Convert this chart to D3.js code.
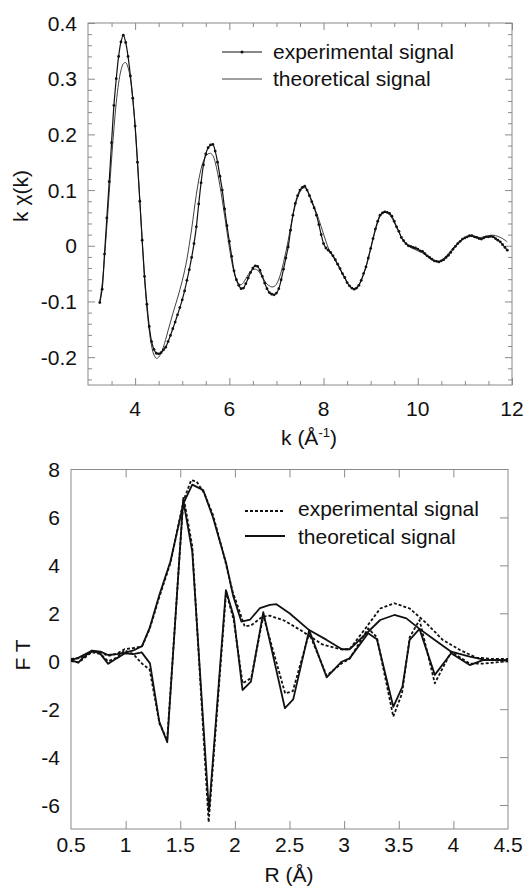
<!DOCTYPE html>
<html lang="en">
  <head>
    <meta charset="UTF-8" />
    <title>EXAFS signal and Fourier transform</title>
    <style type="text/css">
      body {
        margin: 0;
        background: #ffffff;
        font-family: "Liberation Sans", Arial, Helvetica, sans-serif;
      }
      svg {
        display: block;
      }
      .frame {
        fill: none;
        stroke: #8a8a8a;
        stroke-width: 1px;
      }
      .tick-g line {
        stroke: #8a8a8a;
      }
      .tick-g path {
        display: none;
      }
      text {
        fill: #111111;
        font-size: 21px;
      }
    </style>
  </head>
  <body>
    <script src="https://d3js.org/d3.v7.min.js"></script>
    <script>
      // ---- top panel : k chi(k), sampled every 0.05 from k = 3.25 ----
      var kStart = 3.25;
      var kStep = 0.05;
      var chiExperimental = [
        -0.102, -0.078, -0.015, 0.050, 0.115, 0.185, 0.252, 0.300, 0.340, 0.366,
        0.378, 0.365, 0.340, 0.305, 0.265, 0.215, 0.150, 0.080, 0.010, -0.055,
        -0.105, -0.145, -0.172, -0.186, -0.193, -0.194, -0.192, -0.187, -0.182, -0.172,
        -0.161, -0.149, -0.137, -0.124, -0.111, -0.097, -0.081, -0.062, -0.043, -0.021,
        0.004, 0.034, 0.075, 0.113, 0.145, 0.165, 0.176, 0.181, 0.182, 0.170,
        0.150, 0.125, 0.100, 0.066, 0.036, 0.008, -0.019, -0.045, -0.061, -0.071,
        -0.077, -0.076, -0.068, -0.058, -0.048, -0.040, -0.036, -0.037, -0.044, -0.055,
        -0.067, -0.077, -0.084, -0.087, -0.088, -0.085, -0.077, -0.061, -0.042, -0.022,
        -0.002, 0.028, 0.055, 0.076, 0.090, 0.100, 0.105, 0.107, 0.100, 0.090,
        0.079, 0.068, 0.055, 0.038, 0.020, 0.004, -0.004, -0.008, -0.012, -0.018,
        -0.025, -0.033, -0.041, -0.050, -0.057, -0.066, -0.072, -0.076, -0.078, -0.076,
        -0.071, -0.062, -0.050, -0.038, -0.022, -0.005, 0.013, 0.030, 0.044, 0.055,
        0.059, 0.061, 0.060, 0.058, 0.053, 0.044, 0.034, 0.026, 0.015, 0.009,
        0.004, 0.000, -0.001, -0.003, -0.004, -0.006, -0.009, -0.010, -0.014, -0.018,
        -0.021, -0.024, -0.027, -0.028, -0.029, -0.027, -0.025, -0.021, -0.017, -0.012,
        -0.006, -0.001, 0.004, 0.008, 0.012, 0.014, 0.016, 0.018, 0.018, 0.016,
        0.015, 0.013, 0.012, 0.014, 0.016, 0.016, 0.017, 0.016, 0.013, 0.010,
        0.007, 0.002, -0.003, -0.008
      ];
      var chiTheoretical = [
        -0.100, -0.070, -0.022, 0.035, 0.095, 0.155, 0.210, 0.257, 0.292, 0.315,
        0.327, 0.329, 0.320, 0.300, 0.264, 0.216, 0.152, 0.082, 0.010, -0.058,
        -0.112, -0.152, -0.180, -0.196, -0.202, -0.200, -0.193, -0.182, -0.168, -0.152,
        -0.137, -0.122, -0.108, -0.094, -0.079, -0.063, -0.045, -0.024, 0.002, 0.030,
        0.062, 0.092, 0.118, 0.138, 0.152, 0.161, 0.165, 0.166, 0.162, 0.150,
        0.131, 0.108, 0.082, 0.054, 0.025, -0.003, -0.028, -0.048, -0.061, -0.068,
        -0.070, -0.066, -0.059, -0.052, -0.046, -0.043, -0.042, -0.044, -0.049, -0.056,
        -0.063, -0.069, -0.072, -0.074, -0.073, -0.069, -0.060, -0.047, -0.030, -0.011,
        0.010, 0.033, 0.055, 0.073, 0.087, 0.097, 0.103, 0.104, 0.100, 0.092,
        0.081, 0.070, 0.059, 0.047, 0.034, 0.021, 0.008, -0.004, -0.013, -0.020,
        -0.027, -0.034, -0.042, -0.050, -0.058, -0.066, -0.072, -0.076, -0.077, -0.075,
        -0.070, -0.062, -0.051, -0.038, -0.022, -0.005, 0.012, 0.028, 0.042, 0.053,
        0.058, 0.060, 0.059, 0.056, 0.050, 0.042, 0.033, 0.024, 0.016, 0.009,
        0.004, 0.000, -0.003, -0.005, -0.007, -0.009, -0.011, -0.013, -0.016, -0.019,
        -0.022, -0.025, -0.027, -0.028, -0.028, -0.026, -0.023, -0.019, -0.014, -0.009,
        -0.004, 0.001, 0.005, 0.009, 0.012, 0.015, 0.017, 0.018, 0.018, 0.017,
        0.016, 0.015, 0.015, 0.016, 0.017, 0.018, 0.019, 0.019, 0.018, 0.017,
        0.015, 0.013, 0.010, 0.007
      ];
      var kTickLabels = [4, 6, 8, 10, 12];
      var chiTickLabels = [-0.2, -0.1, 0, 0.1, 0.2, 0.3, 0.4];

      // ---- bottom panel : Fourier transform (modulus and imaginary part) ----
      var rExpMod = [0.5, 0.57, 0.69, 0.77, 0.84, 0.92, 0.99, 1.07, 1.15, 1.22, 1.31, 1.41, 1.53, 1.6, 1.65, 1.72, 1.8, 1.9, 1.98, 2.09, 2.15, 2.25, 2.32, 2.45, 2.6, 2.8, 2.97, 3.05, 3.2, 3.33, 3.46, 3.6, 3.75, 3.9, 4.06, 4.21, 4.35, 4.5];
      var ftExpMod = [0.1, 0.12, 0.4, 0.38, 0.22, 0.32, 0.5, 0.55, 0.62, 1.35, 2.7, 4.1, 6.7, 7.56, 7.5, 7.0, 6.1, 4.4, 2.9, 1.45, 1.5, 1.85, 1.9, 1.7, 1.3, 0.7, 0.5, 0.5, 1.4, 2.2, 2.42, 2.2, 1.6, 0.9, 0.47, 0.15, 0.1, 0.1];
      var rExpIm = [0.5, 0.57, 0.69, 0.77, 0.84, 0.92, 0.99, 1.07, 1.15, 1.22, 1.31, 1.38, 1.53, 1.61, 1.76, 1.92, 1.99, 2.07, 2.15, 2.26, 2.46, 2.53, 2.68, 2.84, 2.98, 3.05, 3.22, 3.3, 3.45, 3.53, 3.6, 3.69, 3.83, 3.98, 4.15, 4.27, 4.5];
      var ftExpIm = [0.0, -0.05, 0.38, 0.3, 0.0, 0.15, 0.45, 0.3, -0.1, -0.35, -2.6, -3.3, 6.85, 4.8, -6.72, 2.9, 1.7, -0.92, -0.7, 1.9, -1.34, -1.25, 1.17, -0.6, -0.08, 0.1, 1.37, 1.0, -2.31, -1.34, 1.0, 1.72, -0.92, 0.4, -0.1, -0.1, 0.0];
      var rTheoMod = [0.5, 0.57, 0.69, 0.77, 0.84, 0.92, 0.99, 1.07, 1.15, 1.22, 1.31, 1.41, 1.53, 1.61, 1.71, 1.8, 1.92, 1.985, 2.06, 2.14, 2.23, 2.32, 2.38, 2.5, 2.68, 2.84, 2.98, 3.05, 3.22, 3.33, 3.46, 3.57, 3.69, 3.83, 3.98, 4.15, 4.3, 4.5];
      var ftTheoMod = [0.05, 0.15, 0.44, 0.4, 0.26, 0.3, 0.35, 0.45, 0.63, 1.39, 2.78, 4.16, 6.6, 7.37, 7.14, 6.0, 4.09, 2.71, 1.65, 1.74, 2.22, 2.35, 2.38, 2.0, 1.3, 0.89, 0.5, 0.5, 1.23, 1.72, 1.93, 1.79, 1.35, 0.89, 0.4, 0.19, 0.05, 0.05];
      var rTheoIm = [0.5, 0.567, 0.61, 0.69, 0.765, 0.841, 0.918, 0.994, 1.07, 1.147, 1.223, 1.308, 1.381, 1.527, 1.61, 1.763, 1.918, 1.99, 2.07, 2.147, 2.26, 2.458, 2.534, 2.68, 2.84, 2.977, 3.05, 3.22, 3.3, 3.45, 3.534, 3.6, 3.69, 3.83, 3.98, 4.15, 4.27, 4.5];
      var ftTheoIm = [0.05, -0.06, 0.15, 0.44, 0.33, -0.11, 0.12, 0.33, 0.3, 0.37, -0.09, -2.52, -3.38, 6.73, 4.57, -6.28, 2.97, 1.86, -1.2, -0.85, 2.05, -1.96, -1.59, 1.3, -0.67, -0.02, 0.12, 1.17, 0.92, -1.9, -1.06, 0.89, 1.35, -0.57, 0.33, -0.16, 0.05, 0.05];
      var rTickLabels = [0.5, 1, 1.5, 2, 2.5, 3, 3.5, 4, 4.5];
      var ftTickLabels = [-6, -4, -2, 0, 2, 4, 6, 8];

      var legendLabels = ["experimental signal", "theoretical signal"];

      var width = 524;
      var height = 887;
      var svg = d3.select("body").append("svg").attr("width", width).attr("height", height);

      // inner ticks drawn with d3 axes, no labels
      function innerTicks(g, axis, values, len) {
        g.append("g")
          .attr("class", "tick-g")
          .call(axis.tickValues(values).tickSize(-len).tickFormat(""));
      }

      // ===== top panel =====
      var x1 = d3.scaleLinear().domain([3, 12]).range([88, 512]);
      var y1 = d3.scaleLinear().domain([-0.25, 0.4]).range([385, 23]);

      var topPanel = svg.append("g");
      var kMinor = d3.range(3.5, 12, 0.5).filter((d) => d % 2 !== 0);
      var chiMinor = d3.range(-24, 40, 2).filter((d) => d % 10 !== 0).map((d) => d / 100);

      [[d3.axisBottom, 385], [d3.axisTop, 23]].forEach(([axf, ty]) => {
        var g = topPanel.append("g").attr("transform", `translate(0,${ty})`);
        innerTicks(g, axf(x1), kTickLabels, 7);
        innerTicks(g, axf(x1), kMinor, 4);
      });
      [[d3.axisLeft, 88], [d3.axisRight, 512]].forEach(([axf, tx]) => {
        var g = topPanel.append("g").attr("transform", `translate(${tx},0)`);
        innerTicks(g, axf(y1), chiTickLabels, 7);
        innerTicks(g, axf(y1), chiMinor, 4);
      });
      topPanel.append("rect").attr("class", "frame")
        .attr("x", 88).attr("y", 23).attr("width", 424).attr("height", 362);

      topPanel.selectAll(".xl").data(kTickLabels).join("text")
        .attr("x", (d) => x1(d)).attr("y", 416)
        .attr("text-anchor", "middle").text((d) => d);
      topPanel.selectAll(".yl").data(chiTickLabels).join("text")
        .attr("x", 77).attr("y", (d) => y1(d))
        .attr("dy", "0.36em").attr("text-anchor", "end").text((d) => String(d));

      var kLabel = topPanel.append("text").attr("x", 309).attr("y", 445).attr("text-anchor", "middle");
      kLabel.append("tspan").text("k (Å");
      kLabel.append("tspan").attr("dy", -8).style("font-size", "13px").text("-1");
      kLabel.append("tspan").attr("dy", 8).text(")");
      topPanel.append("text").attr("transform", "translate(28,196) rotate(-90)")
        .attr("text-anchor", "middle").text("k χ(k)");

      var expPts = chiExperimental.map((v, i) => [kStart + i * kStep, v]);
      var theoPts = chiTheoretical.map((v, i) => [kStart + i * kStep, v]);
      var line1 = d3.line().x((d) => x1(d[0])).y((d) => y1(d[1])).curve(d3.curveCatmullRom);

      topPanel.append("path").attr("d", line1(theoPts))
        .attr("fill", "none").attr("stroke", "#2a2a2a").attr("stroke-width", 0.9);
      topPanel.append("path").attr("d", line1(expPts))
        .attr("fill", "none").attr("stroke", "#111").attr("stroke-width", 1.2);
      topPanel.append("g").selectAll("circle").data(expPts).join("circle")
        .attr("cx", (d) => x1(d[0])).attr("cy", (d) => y1(d[1]))
        .attr("r", 1.4).attr("fill", "#111");

      // legend top
      var leg1 = topPanel.append("g");
      leg1.append("line").attr("x1", 222).attr("x2", 262).attr("y1", 52).attr("y2", 52)
        .attr("stroke", "#111").attr("stroke-width", 1.2);
      leg1.append("circle").attr("cx", 242).attr("cy", 52).attr("r", 1.5).attr("fill", "#111");
      leg1.append("line").attr("x1", 222).attr("x2", 262).attr("y1", 79).attr("y2", 79)
        .attr("stroke", "#2a2a2a").attr("stroke-width", 0.9);
      leg1.selectAll("text").data(legendLabels).join("text")
        .attr("x", 273).attr("y", (d, i) => 52 + i * 27).attr("dy", "0.35em").text((d) => d);

      // ===== bottom panel =====
      var x2 = d3.scaleLinear().domain([0.5, 4.5]).range([71, 508]);
      var y2 = d3.scaleLinear().domain([-7, 8]).range([829, 469.5]);
      var botPanel = svg.append("g");
      var rMajor = rTickLabels.slice(1, -1);
      var ftMajor = [-6, -4, -2, 0, 2, 4, 6];

      [[d3.axisBottom, 829], [d3.axisTop, 469.5]].forEach(([axf, ty]) => {
        var g = botPanel.append("g").attr("transform", `translate(0,${ty})`);
        innerTicks(g, axf(x2), rMajor, 8);
      });
      var gr = botPanel.append("g").attr("transform", "translate(508,0)");
      innerTicks(gr, d3.axisRight(y2), ftMajor, 8);
      botPanel.append("rect").attr("class", "frame")
        .attr("x", 71).attr("y", 469.5).attr("width", 437).attr("height", 359.5);

      botPanel.selectAll(".xl").data(rTickLabels).join("text")
        .attr("x", (d) => x2(d)).attr("y", 852)
        .attr("text-anchor", "middle").text((d) => String(d));
      botPanel.selectAll(".yl").data(ftTickLabels).join("text")
        .attr("x", 60).attr("y", (d) => y2(d))
        .attr("dy", "0.36em").attr("text-anchor", "end").text((d) => String(d));
      botPanel.append("text").attr("x", 289).attr("y", 882).attr("text-anchor", "middle").text("R (Å)");
      botPanel.append("text").attr("transform", "translate(30,655) rotate(-90)")
        .attr("text-anchor", "middle").text("F T");

      var line2 = d3.line().x((d) => x2(d[0])).y((d) => y2(d[1]));
      var series = [
        { r: rExpMod, v: ftExpMod, dash: "3,2" },
        { r: rExpIm, v: ftExpIm, dash: "3,2" },
        { r: rTheoMod, v: ftTheoMod, dash: null },
        { r: rTheoIm, v: ftTheoIm, dash: null }
      ];
      botPanel.append("g").selectAll("path").data(series).join("path")
        .attr("d", (s) => line2(s.r.map((r, i) => [r, s.v[i]])))
        .attr("fill", "none").attr("stroke", "#111").attr("stroke-width", 1.8)
        .attr("stroke-linejoin", "round")
        .attr("stroke-dasharray", (s) => s.dash);

      // legend bottom
      var leg2 = botPanel.append("g");
      leg2.selectAll("line").data([{ y: 511, dash: "3,2" }, { y: 536, dash: null }]).join("line")
        .attr("x1", 245).attr("x2", 285).attr("y1", (d) => d.y).attr("y2", (d) => d.y)
        .attr("stroke", "#111").attr("stroke-width", 1.8).attr("stroke-dasharray", (d) => d.dash);
      leg2.selectAll("text").data(legendLabels).join("text")
        .attr("x", 298).attr("y", (d, i) => 509 + i * 28).attr("dy", "0.35em").text((d) => d);
    </script>
  </body>
</html>
